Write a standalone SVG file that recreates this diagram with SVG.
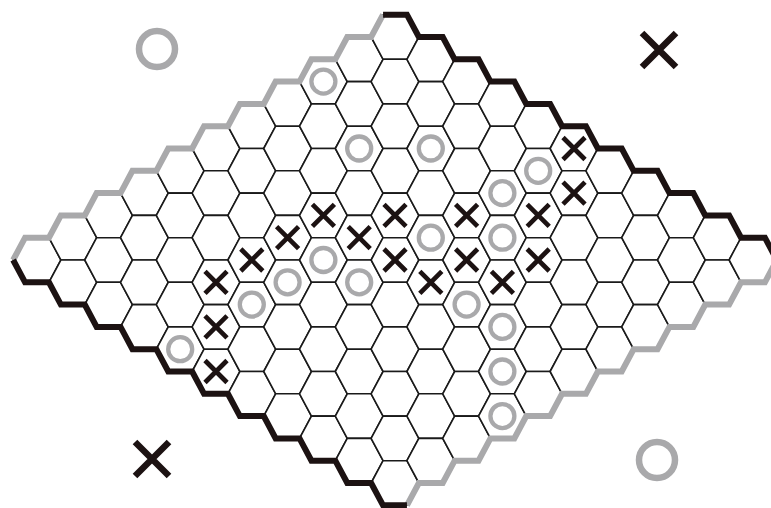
<svg xmlns="http://www.w3.org/2000/svg" xmlns:xlink="http://www.w3.org/1999/xlink" width="771" height="508" viewBox="0 0 771 508">
<style>
.cell{fill:#fff;stroke:#1a1a1a;stroke-width:1.6}
.bk{fill:none;stroke:#1c1212;stroke-width:6;stroke-linejoin:miter;stroke-linecap:butt}
.gy{fill:none;stroke:#a9a9ab;stroke-width:6;stroke-linejoin:miter;stroke-linecap:butt}
.xm{fill:none;stroke:#1c1212;stroke-width:4.7;stroke-linecap:butt}
.om{fill:none;stroke:#a9a9ab;stroke-width:4.3}
.xb{fill:none;stroke:#1c1212;stroke-width:6.5;stroke-linecap:butt}
.ob{fill:none;stroke:#a9a9ab;stroke-width:6.5}
</style>
<defs>
<polygon id="h" class="cell" points="-23.87,0 -11.93,-22.3 11.93,-22.3 23.87,0 11.93,22.3 -11.93,22.3"/>
<path id="x" class="xm" d="M-11,-11L11,11M11,-11L-11,11"/>
<circle id="o" class="om" r="12"/>
</defs>
<rect width="771" height="508" fill="#fff"/>
<g id="grid">
<use href="#h" x="37" y="260"/>
<use href="#h" x="72.8" y="237.7"/><use href="#h" x="72.8" y="282.3"/>
<use href="#h" x="108.6" y="215.4"/><use href="#h" x="108.6" y="260"/><use href="#h" x="108.6" y="304.6"/>
<use href="#h" x="144.4" y="193.1"/><use href="#h" x="144.4" y="237.7"/><use href="#h" x="144.4" y="282.3"/><use href="#h" x="144.4" y="326.9"/>
<use href="#h" x="180.2" y="170.8"/><use href="#h" x="180.2" y="215.4"/><use href="#h" x="180.2" y="260"/><use href="#h" x="180.2" y="304.6"/><use href="#h" x="180.2" y="349.2"/>
<use href="#h" x="216" y="148.5"/><use href="#h" x="216" y="193.1"/><use href="#h" x="216" y="237.7"/><use href="#h" x="216" y="282.3"/><use href="#h" x="216" y="326.9"/><use href="#h" x="216" y="371.5"/>
<use href="#h" x="251.8" y="126.2"/><use href="#h" x="251.8" y="170.8"/><use href="#h" x="251.8" y="215.4"/><use href="#h" x="251.8" y="260"/><use href="#h" x="251.8" y="304.6"/><use href="#h" x="251.8" y="349.2"/><use href="#h" x="251.8" y="393.8"/>
<use href="#h" x="287.6" y="103.9"/><use href="#h" x="287.6" y="148.5"/><use href="#h" x="287.6" y="193.1"/><use href="#h" x="287.6" y="237.7"/><use href="#h" x="287.6" y="282.3"/><use href="#h" x="287.6" y="326.9"/><use href="#h" x="287.6" y="371.5"/><use href="#h" x="287.6" y="416.1"/>
<use href="#h" x="323.4" y="81.6"/><use href="#h" x="323.4" y="126.2"/><use href="#h" x="323.4" y="170.8"/><use href="#h" x="323.4" y="215.4"/><use href="#h" x="323.4" y="260"/><use href="#h" x="323.4" y="304.6"/><use href="#h" x="323.4" y="349.2"/><use href="#h" x="323.4" y="393.8"/><use href="#h" x="323.4" y="438.4"/>
<use href="#h" x="359.2" y="59.3"/><use href="#h" x="359.2" y="103.9"/><use href="#h" x="359.2" y="148.5"/><use href="#h" x="359.2" y="193.1"/><use href="#h" x="359.2" y="237.7"/><use href="#h" x="359.2" y="282.3"/><use href="#h" x="359.2" y="326.9"/><use href="#h" x="359.2" y="371.5"/><use href="#h" x="359.2" y="416.1"/><use href="#h" x="359.2" y="460.7"/>
<use href="#h" x="395" y="37"/><use href="#h" x="395" y="81.6"/><use href="#h" x="395" y="126.2"/><use href="#h" x="395" y="170.8"/><use href="#h" x="395" y="215.4"/><use href="#h" x="395" y="260"/><use href="#h" x="395" y="304.6"/><use href="#h" x="395" y="349.2"/><use href="#h" x="395" y="393.8"/><use href="#h" x="395" y="438.4"/><use href="#h" x="395" y="483"/>
<use href="#h" x="430.8" y="59.3"/><use href="#h" x="430.8" y="103.9"/><use href="#h" x="430.8" y="148.5"/><use href="#h" x="430.8" y="193.1"/><use href="#h" x="430.8" y="237.7"/><use href="#h" x="430.8" y="282.3"/><use href="#h" x="430.8" y="326.9"/><use href="#h" x="430.8" y="371.5"/><use href="#h" x="430.8" y="416.1"/><use href="#h" x="430.8" y="460.7"/>
<use href="#h" x="466.6" y="81.6"/><use href="#h" x="466.6" y="126.2"/><use href="#h" x="466.6" y="170.8"/><use href="#h" x="466.6" y="215.4"/><use href="#h" x="466.6" y="260"/><use href="#h" x="466.6" y="304.6"/><use href="#h" x="466.6" y="349.2"/><use href="#h" x="466.6" y="393.8"/><use href="#h" x="466.6" y="438.4"/>
<use href="#h" x="502.4" y="103.9"/><use href="#h" x="502.4" y="148.5"/><use href="#h" x="502.4" y="193.1"/><use href="#h" x="502.4" y="237.7"/><use href="#h" x="502.4" y="282.3"/><use href="#h" x="502.4" y="326.9"/><use href="#h" x="502.4" y="371.5"/><use href="#h" x="502.4" y="416.1"/>
<use href="#h" x="538.2" y="126.2"/><use href="#h" x="538.2" y="170.8"/><use href="#h" x="538.2" y="215.4"/><use href="#h" x="538.2" y="260"/><use href="#h" x="538.2" y="304.6"/><use href="#h" x="538.2" y="349.2"/><use href="#h" x="538.2" y="393.8"/>
<use href="#h" x="574" y="148.5"/><use href="#h" x="574" y="193.1"/><use href="#h" x="574" y="237.7"/><use href="#h" x="574" y="282.3"/><use href="#h" x="574" y="326.9"/><use href="#h" x="574" y="371.5"/>
<use href="#h" x="609.8" y="170.8"/><use href="#h" x="609.8" y="215.4"/><use href="#h" x="609.8" y="260"/><use href="#h" x="609.8" y="304.6"/><use href="#h" x="609.8" y="349.2"/>
<use href="#h" x="645.6" y="193.1"/><use href="#h" x="645.6" y="237.7"/><use href="#h" x="645.6" y="282.3"/><use href="#h" x="645.6" y="326.9"/>
<use href="#h" x="681.4" y="215.4"/><use href="#h" x="681.4" y="260"/><use href="#h" x="681.4" y="304.6"/>
<use href="#h" x="717.2" y="237.7"/><use href="#h" x="717.2" y="282.3"/>
<use href="#h" x="753" y="260"/>
</g>
<g id="borders">
<path id="edge-top-left" class="gy" d="M13.13,260 l11.93,-22.3 h23.87 l11.93,-22.3 h23.87 l11.93,-22.3 h23.87 l11.93,-22.3 h23.87 l11.93,-22.3 h23.87 l11.93,-22.3 h23.87 l11.93,-22.3 h23.87 l11.93,-22.3 h23.87 l11.93,-22.3 h23.87 l11.93,-22.3 h23.87 l11.93,-22.3"/>
<path id="edge-bottom-right" class="gy" d="M406.93,505.3 l11.93,-22.3 h23.87 l11.93,-22.3 h23.87 l11.93,-22.3 h23.87 l11.93,-22.3 h23.87 l11.93,-22.3 h23.87 l11.93,-22.3 h23.87 l11.93,-22.3 h23.87 l11.93,-22.3 h23.87 l11.93,-22.3 h23.87 l11.93,-22.3 h23.87 l11.93,-22.3"/>
<path id="edge-top-right" class="bk" d="M383.07,14.7 h23.87 l11.93,22.3 h23.87 l11.93,22.3 h23.87 l11.93,22.3 h23.87 l11.93,22.3 h23.87 l11.93,22.3 h23.87 l11.93,22.3 h23.87 l11.93,22.3 h23.87 l11.93,22.3 h23.87 l11.93,22.3 h23.87 l11.93,22.3 h23.87 l11.93,22.3"/>
<path id="edge-bottom-left" class="bk" d="M13.13,260 l11.93,22.3 h23.87 l11.93,22.3 h23.87 l11.93,22.3 h23.87 l11.93,22.3 h23.87 l11.93,22.3 h23.87 l11.93,22.3 h23.87 l11.93,22.3 h23.87 l11.93,22.3 h23.87 l11.93,22.3 h23.87 l11.93,22.3 h23.87 l11.93,22.3 h23.87"/>
</g>
<g id="pieces-o">
<use href="#o" x="323.4" y="81.6"/>
<use href="#o" x="359.2" y="148.5"/>
<use href="#o" x="430.8" y="148.5"/>
<use href="#o" x="538.2" y="170.8"/>
<use href="#o" x="502.4" y="193.1"/>
<use href="#o" x="430.8" y="237.7"/>
<use href="#o" x="502.4" y="237.7"/>
<use href="#o" x="323.4" y="260"/>
<use href="#o" x="287.6" y="282.3"/>
<use href="#o" x="359.2" y="282.3"/>
<use href="#o" x="251.8" y="304.6"/>
<use href="#o" x="466.6" y="304.6"/>
<use href="#o" x="502.4" y="326.9"/>
<use href="#o" x="180.2" y="349.2"/>
<use href="#o" x="502.4" y="371.5"/>
<use href="#o" x="502.4" y="416.1"/>
</g>
<g id="pieces-x">
<use href="#x" x="574" y="148.5"/>
<use href="#x" x="574" y="193.1"/>
<use href="#x" x="323.4" y="215.4"/>
<use href="#x" x="395" y="215.4"/>
<use href="#x" x="466.6" y="215.4"/>
<use href="#x" x="538.2" y="215.4"/>
<use href="#x" x="287.6" y="237.7"/>
<use href="#x" x="359.2" y="237.7"/>
<use href="#x" x="251.8" y="260"/>
<use href="#x" x="395" y="260"/>
<use href="#x" x="466.6" y="260"/>
<use href="#x" x="538.2" y="260"/>
<use href="#x" x="430.8" y="282.3"/>
<use href="#x" x="502.4" y="282.3"/>
<use href="#x" x="216" y="282.3"/>
<use href="#x" x="216" y="326.9"/>
<use href="#x" x="216" y="371.5"/>
</g>
<g id="legend">
<circle id="legend-o-top" class="ob" cx="157" cy="49" r="18"/>
<circle id="legend-o-bottom" class="ob" cx="657" cy="460" r="18"/>
<path id="legend-x-top" class="xb" d="M642,33L676,67M676,33L642,67"/>
<path id="legend-x-bottom" class="xb" d="M135,442L169,476M169,442L135,476"/>
</g>
</svg>
